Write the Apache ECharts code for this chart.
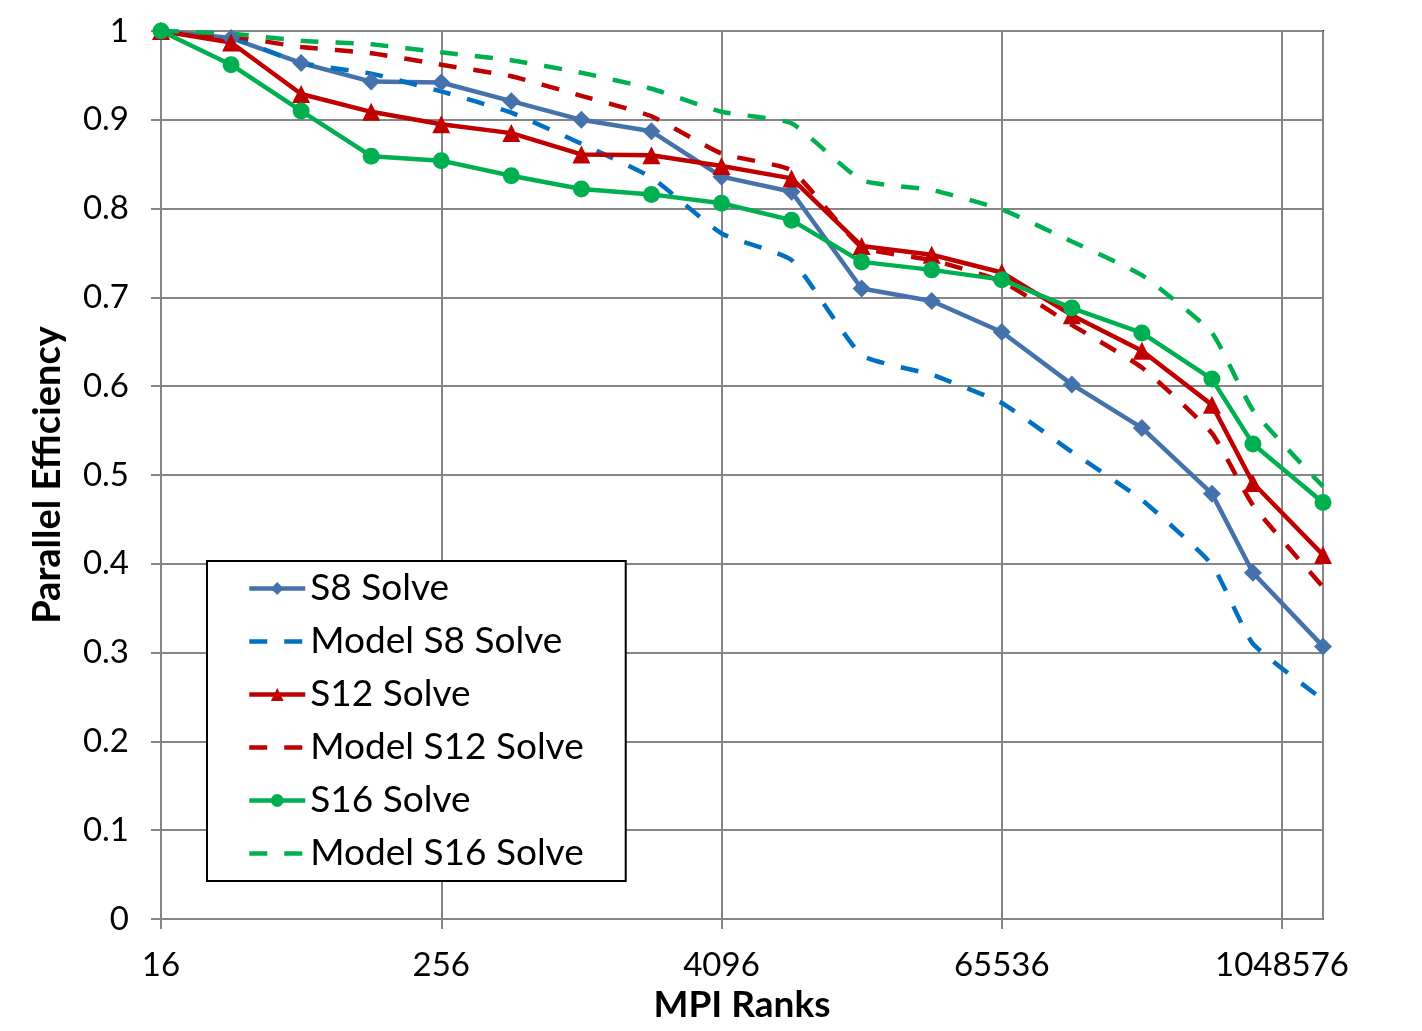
<!DOCTYPE html>
<html>
<head>
<meta charset="utf-8">
<script src="https://cdn.jsdelivr.net/npm/echarts@6/dist/echarts.min.js"></script>
<style>
  html, body { margin: 0; padding: 0; background: #fff; }
  #chart { width: 1422px; height: 1031px; }
</style>
</head>
<body>
<div id="chart"></div>
<script>
// MPI ranks (x) for every measured point
var ranks = [16, 32, 64, 128, 256, 512, 1024, 2048, 4096, 8192, 16384, 32768,
  65536, 131072, 262144, 524288, 786432, 1572864];

// parallel efficiency
var s8 = [1.0, 0.992, 0.964, 0.943, 0.942, 0.921, 0.900, 0.887, 0.836, 0.819,
  0.710, 0.696, 0.661, 0.602, 0.553, 0.479, 0.390, 0.307];
var modelS8 = [1.0, 0.993, 0.964, 0.952, 0.932, 0.908, 0.873, 0.835, 0.772, 0.742,
  0.635, 0.613, 0.581, 0.526, 0.472, 0.399, 0.310, 0.247];
var s12 = [1.0, 0.987, 0.929, 0.909, 0.895, 0.885, 0.861, 0.860, 0.848, 0.834,
  0.758, 0.748, 0.728, 0.680, 0.640, 0.579, 0.491, 0.410];
var modelS12 = [1.0, 0.994, 0.982, 0.975, 0.962, 0.949, 0.927, 0.904, 0.862, 0.843,
  0.757, 0.742, 0.718, 0.669, 0.621, 0.547, 0.466, 0.374];
var s16 = [1.0, 0.962, 0.910, 0.859, 0.854, 0.837, 0.822, 0.816, 0.806, 0.787,
  0.740, 0.731, 0.720, 0.688, 0.660, 0.608, 0.535, 0.469];
var modelS16 = [1.0, 0.997, 0.989, 0.985, 0.976, 0.967, 0.953, 0.935, 0.909, 0.896,
  0.832, 0.821, 0.799, 0.763, 0.725, 0.660, 0.573, 0.487];

var seriesNames = ["S8 Solve", "Model S8 Solve", "S12 Solve",
  "Model S12 Solve", "S16 Solve", "Model S16 Solve"];

var FONT = "Lato";

function pairs(vals) {
  return ranks.map(function (r, i) { return [r, vals[i]]; });
}

// solid measured series
function solid(name, vals, color, symbol, size) {
  return {
    name: name,
    type: "line",
    data: pairs(vals),
    symbol: symbol,
    symbolSize: size,
    itemStyle: { color: color },
    lineStyle: { color: color, width: 4.5 },
    emphasis: { disabled: true }
  };
}

// dashed model series
function dashed(name, vals, color) {
  return {
    name: name,
    type: "line",
    data: pairs(vals),
    symbol: "none",
    smooth: 0.15,
    itemStyle: { color: color },
    lineStyle: { color: color, width: 4.5, type: [18, 17] },
    emphasis: { disabled: true }
  };
}

// legend entries: the model lines get no marker in the key
var legendData = seriesNames.map(function (n) {
  if (n.indexOf("Model") === 0) {
    return { name: n, itemStyle: { color: "rgba(0,0,0,0)", borderWidth: 0 } };
  }
  return { name: n };
});

var chart = echarts.init(document.getElementById("chart"));
var option = {
  animation: false,
  backgroundColor: "#fff",
  grid: {
    left: 161,
    top: 31,
    width: 1162,
    height: 888,
    show: true,
    borderColor: "#000",
    borderWidth: 2
  },
  legend: {
    data: legendData,
    orient: "vertical",
    left: 207,
    top: 561,
    backgroundColor: "#fff",
    borderColor: "#000",
    borderWidth: 2,
    borderRadius: 0,
    padding: [9, 42, 9, 40],
    itemWidth: 56,
    itemHeight: 16,
    itemGap: 16,
    lineStyle: { width: 4.5 },
    textStyle: { fontFamily: FONT, fontSize: 37, color: "#000", lineHeight: 36 }
  },
  xAxis: {
    type: "log",
    logBase: 16,
    min: 16,
    max: 1572864,
    name: "MPI Ranks",
    nameLocation: "middle",
    nameGap: 66,
    nameTextStyle: { fontFamily: FONT, fontSize: 37, fontWeight: "bold", color: "#000" },
    axisLine: { lineStyle: { color: "#868686", width: 2 } },
    axisTick: { show: true, length: 10, lineStyle: { color: "#868686", width: 2 } },
    axisLabel: {
      margin: 30,
      showMaxLabel: false,
      fontFamily: FONT,
      fontSize: 33,
      color: "#000",
      formatter: function (v) { return String(Math.round(v)); }
    },
    splitLine: { show: true, lineStyle: { color: "#868686", width: 2 } }
  },
  yAxis: {
    type: "value",
    min: 0,
    max: 1,
    interval: 0.1,
    name: "Parallel Efficiency",
    nameLocation: "middle",
    nameGap: 94,
    nameTextStyle: { fontFamily: FONT, fontSize: 38, fontWeight: "bold", color: "#000" },
    axisLine: { show: true, lineStyle: { color: "#868686", width: 2 } },
    axisTick: { show: true, length: 10, lineStyle: { color: "#868686", width: 2 } },
    axisLabel: {
      margin: 32,
      fontFamily: FONT,
      fontSize: 33,
      color: "#000",
      formatter: function (v) { return String(Math.round(v * 10) / 10); }
    },
    splitLine: { show: true, lineStyle: { color: "#868686", width: 2 } }
  },
  series: [
    solid(seriesNames[0], s8, "#4672AC", "diamond", 18),
    dashed(seriesNames[1], modelS8, "#0070C0"),
    solid(seriesNames[2], s12, "#C00000", "triangle", 18),
    dashed(seriesNames[3], modelS12, "#C00000"),
    solid(seriesNames[4], s16, "#00B050", "circle", 17),
    dashed(seriesNames[5], modelS16, "#00B050")
  ]
};
chart.setOption(option);
</script>
</body>
</html>
